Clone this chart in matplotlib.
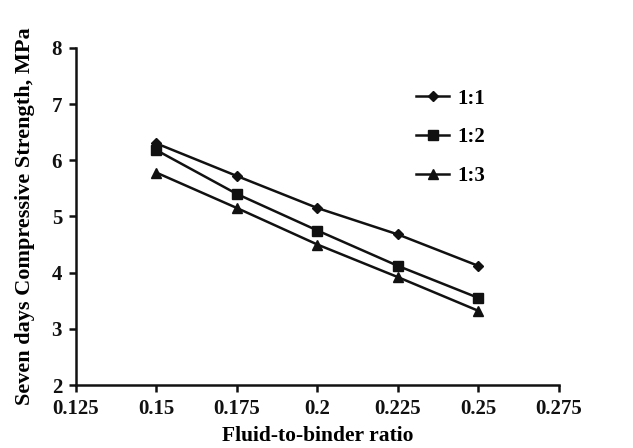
import matplotlib
matplotlib.use("Agg")
import matplotlib.pyplot as plt

x = [0.15, 0.175, 0.2, 0.225, 0.25]
s11 = [6.30, 5.72, 5.15, 4.68, 4.12]
s12 = [6.18, 5.40, 4.75, 4.12, 3.55]
s13 = [5.78, 5.15, 4.50, 3.92, 3.32]
labels = ["1:1", "1:2", "1:3"]
xticks = [0.125, 0.15, 0.175, 0.2, 0.225, 0.25, 0.275]
xticklabels = ["0.125", "0.15", "0.175", "0.2", "0.225", "0.25", "0.275"]
yticks = [2, 3, 4, 5, 6, 7, 8]

plt.rcParams['font.family'] = ['Liberation Serif', 'DejaVu Serif']
plt.rcParams['font.weight'] = 'bold'

fig = plt.figure(figsize=(6.33, 4.48), dpi=100)
ax = fig.add_axes([0.120, 0.1406, 0.763, 0.7524])

c = '#111111'
ax.plot(x, s11, color=c, lw=1.8, marker='D', ms=5, label=labels[0])
ax.plot(x, s12, color=c, lw=1.8, marker='s', ms=7, label=labels[1])
ax.plot(x, s13, color=c, lw=1.8, marker='^', ms=7.5, label=labels[2])

ax.set_xlim(0.125, 0.275)
ax.set_ylim(2, 8)
ax.set_xticks(xticks)
ax.set_xticklabels(xticklabels)
ax.set_yticks(yticks)
for sp in ['top', 'right']:
    ax.spines[sp].set_visible(False)
for sp in ['left', 'bottom']:
    ax.spines[sp].set_linewidth(1.8)
    ax.spines[sp].set_color(c)
ax.tick_params(axis='both', direction='out', length=5, width=1.8, labelsize=15, colors=c)
ax.tick_params(axis='x', pad=5)
ax.tick_params(axis='y', pad=5)
for t in ax.get_xticklabels() + ax.get_yticklabels():
    t.set_fontweight('bold')
ax.set_xlabel("Fluid-to-binder ratio", fontsize=15.5, fontweight='bold', labelpad=5)
ax.set_ylabel("Seven days Compressive Strength, MPa", fontsize=16, fontweight='bold', labelpad=12)

leg = ax.legend(loc='upper left', bbox_to_anchor=(0.665, 0.935), frameon=False,
                prop={'size': 15, 'weight': 'bold'}, handlelength=1.6,
                labelspacing=0.9, handletextpad=0.4)

fig.savefig("out.png", dpi=100)
